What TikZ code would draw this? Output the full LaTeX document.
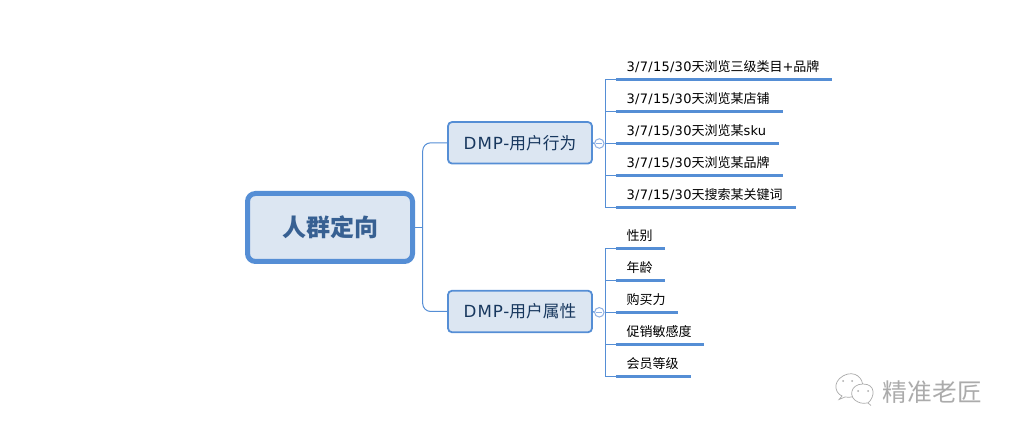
\documentclass[tikz,border=0pt]{standalone}
\usepackage{fontspec}
\setmainfont{Noto Sans CJK SC}
\newfontfamily\latfont[LetterSpace=2]{DejaVu Sans}
\newfontfamily\branchlatfont[LetterSpace=5.5]{DejaVu Sans}
\usetikzlibrary{positioning}
\definecolor{mapblue}{HTML}{558ED5}
\definecolor{mapfill}{HTML}{DCE6F2}
\definecolor{rootink}{HTML}{376092}
\definecolor{branchink}{HTML}{17375E}
\definecolor{foldblue}{HTML}{8EB0E3}
\definecolor{markgray}{HTML}{ABABAB}
\tikzset
{
    rootnode/.style = {rectangle, rounded corners=8pt, draw=mapblue, fill=mapfill, line width=5pt, minimum width=165pt, minimum height=68pt, text=rootink, font=\fontsize{24}{28}\selectfont\bfseries},
    branchnode/.style = {rectangle, rounded corners=4pt, draw=mapblue, fill=mapfill, line width=1.8pt, minimum width=144pt, minimum height=41.5pt, inner sep=0pt, text=branchink, font=\fontsize{16.7}{20}\selectfont},
    leafnode/.style = {anchor=south west, inner xsep=10.5pt, inner ysep=0pt, text depth=8pt, text height=10pt, text width=#1-21pt, align=left, font=\fontsize{13}{15}\selectfont},
    foldnode/.style = {circle, draw=foldblue, fill=white, line width=1pt, minimum size=9.5pt, inner sep=0pt, path picture={\draw[foldblue, line width=1pt] ([xshift=-3pt]path picture bounding box.center) -- ([xshift=3pt]path picture bounding box.center);}},
    thinlink/.style = {draw=mapblue, line width=1pt},
    leafline/.style = {draw=mapblue, line width=2.8pt},
    marktext/.style = {text=markgray, font=\fontsize{24.7}{28}\selectfont},
    markline/.style = {draw=markgray, line width=0.7pt, fill=white}
}
\newcommand{\dayspan}{{\latfont 3/7/15/30}}

\begin{document}
\begin{tikzpicture}[x=1pt, y=-1pt]
\useasboundingbox (0,0) rectangle (1014,435);
% center and main branches
\node[rootnode] (root) at (330,227.5) {人群定向};
\node[branchnode] (action) at (520,142.8) {{\branchlatfont DMP-}用户行为};
\node[branchnode] (profile) at (520,311.5) {{\branchlatfont DMP-}用户属性};
\node[foldnode] (actionfold) at (599.3,143.5) {};
\node[foldnode] (profilefold) at (599.3,312.3) {};
% behaviour leaves
\node[leafnode=215.7pt] (act1) at (616,79.3) {\dayspan 天浏览三级类目{\latfont +}品牌};
\node[leafnode=166.3pt] (act2) at (616,111.3) {\dayspan 天浏览某店铺};
\node[leafnode=162.7pt] (act3) at (616,143.5) {\dayspan 天浏览某{\latfont sku}};
\node[leafnode=166.3pt] (act4) at (616,175.3) {\dayspan 天浏览某品牌};
\node[leafnode=179.3pt] (act5) at (616,207.3) {\dayspan 天搜索某关键词};
% attribute leaves
\node[leafnode=48.3pt] (pro1) at (616,248.3) {性别};
\node[leafnode=48.3pt] (pro2) at (616,280.3) {年龄};
\node[leafnode=61.3pt] (pro3) at (616,312.3) {购买力};
\node[leafnode=87.3pt] (pro4) at (616,344.3) {促销敏感度};
\node[leafnode=74.3pt] (pro5) at (616,376.3) {会员等级};
% links
\coordinate (rootjoin) at (422.7,227.5);
\draw[thinlink] (root.east) -- (rootjoin);
\draw[thinlink, rounded corners=8pt] (action.west) -| (rootjoin) |- (profile.west);
\draw[thinlink] (action.east) -- (actionfold.west);
\draw[thinlink] (profile.east) -- (profilefold.west);
\draw[thinlink] (actionfold.east) -- (act3.south west);
\draw[thinlink] (profilefold.east) -- (pro3.south west);
\foreach \leaf in {act1,act2,act4,act5}
    \draw[thinlink] (\leaf.south west) -- ++(-10.5,0) |- (act3.south west);
\foreach \leaf in {pro1,pro2,pro4,pro5}
    \draw[thinlink] (\leaf.south west) -- ++(-10.5,0) |- (pro3.south west);
\foreach \leaf in {act1,act2,act3,act4,act5,pro1,pro2,pro3,pro4,pro5}
    \draw[leafline] (\leaf.south west) -- (\leaf.south east);
% watermark
\draw[markline] (842,396) .. controls (833,392) and (833,378) .. (848,374) .. controls (858,372) and (865,381) .. (862,390) .. controls (858,397) and (850,398) .. (845,397) -- (839,399.5) -- cycle;
\draw[markline] (868,403) .. controls (875,397) and (876,384) .. (863,384) .. controls (850,384) and (848,398) .. (858,402) .. controls (862,404) and (865,403) .. (868,403) -- (871,405.5) -- cycle;
\fill[markgray] (843,381) circle (1pt) (852,381) circle (1pt) (858,391) circle (1pt) (868,391) circle (1pt);
\node[marktext, anchor=center, inner sep=0pt] (mark) at (932.3,392) {精准老匠};
\end{tikzpicture}
\end{document}
